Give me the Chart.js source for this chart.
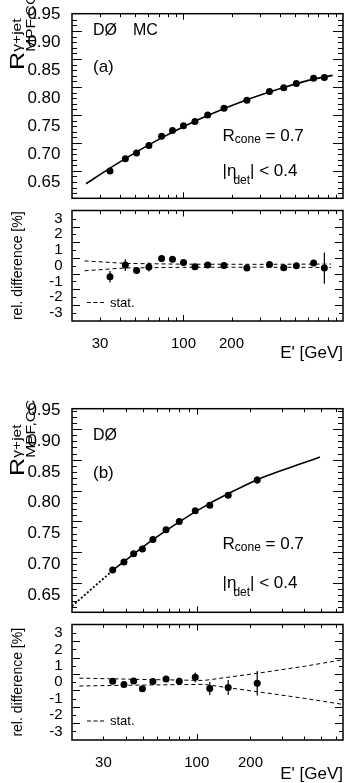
<!DOCTYPE html>
<html>
<head>
<meta charset="utf-8">
<script src="https://cdn.jsdelivr.net/npm/chart.js@4.4.0/dist/chart.umd.min.js"></script>
<style>
html, body { margin: 0; padding: 0; background: #fff; }
body { width: 347px; height: 783px; position: relative; overflow: hidden; font-family: 'Liberation Sans', Arial, sans-serif; color: #000; }
.box { position: absolute; left: 0; width: 347px; }
.t { position: absolute; line-height: 1; white-space: nowrap; }
.sb { font-size: 12px; position: relative; }
.yt { position: absolute; font-size: 21px; line-height: 1; white-space: nowrap; transform-origin: 0 0; transform: rotate(-90deg) scaleX(1.2); }
.yt .sup, .yt .sub { position: absolute; left: 15.2px; font-size: 13px; }
.yt .sup { top: 4.4px; }
.yt .sub { top: 17.9px; }
</style>
</head>
<body>
<div class="box" style="top:0;height:212px"><canvas id="aTop"></canvas></div>
<div class="box" style="top:200px;height:170px"><canvas id="aBot"></canvas></div>
<div class="box" style="top:395px;height:231px"><canvas id="bTop"></canvas></div>
<div class="box" style="top:614px;height:169px"><canvas id="bBot"></canvas></div>

<div class="yt" style="left:6.3px;top:70px">R<span class="sup">γ+jet</span><span class="sub">MPF,CC</span></div>
<div class="t" style="left:93px;top:21.5px;font-size:16px">DØ</div>
<div class="t" style="left:133px;top:21.5px;font-size:16px">MC</div>
<div class="t" style="left:93px;top:57.6px;font-size:17px">(a)</div>
<div class="t" style="left:222.5px;top:127.3px;font-size:17px">R<span class="sb" style="top:2px">cone</span> = 0.7</div>
<div class="t" style="left:222.5px;top:162.3px;font-size:17px">|η<span class="sb" style="top:8px;margin-left:-3px">det</span>| &lt; 0.4</div>

<div class="yt" style="left:6.3px;top:476px">R<span class="sup">γ+jet</span><span class="sub">MPF,CC</span></div>
<div class="t" style="left:93px;top:426.5px;font-size:16px">DØ</div>
<div class="t" style="left:93px;top:463.6px;font-size:17px">(b)</div>
<div class="t" style="left:222.5px;top:534.9px;font-size:17px">R<span class="sb" style="top:2px">cone</span> = 0.7</div>
<div class="t" style="left:222.5px;top:573.9px;font-size:17px">|η<span class="sb" style="top:8px;margin-left:-3px">det</span>| &lt; 0.4</div>

<script>
// ---- panel (a): MC ----
const aE = [34.6, 43.2, 50.8, 60.7, 72.9, 85.3, 100, 118, 141.8, 179.5, 249.7, 346, 425, 510, 654, 764];
const aR = [0.670, 0.6916, 0.7022, 0.7154, 0.7319, 0.7424, 0.7509, 0.7582, 0.7699, 0.782, 0.7963, 0.8117, 0.8185, 0.826, 0.8355, 0.837];
const aRerr = [0.003, 0.002, 0.002, 0.002, 0.002, 0.002, 0.001, 0.001, 0.001, 0.001, 0.001, 0.001, 0.001, 0.001, 0.002, 0.006];
const aDiff = [-0.70, 0.04, -0.30, -0.08, 0.46, 0.42, 0.21, -0.06, 0.04, 0.02, -0.15, 0.08, -0.13, 0.0, 0.17, -0.15];
const aDiffErr = [0.36, 0.38, 0.2, 0.28, 0.18, 0.16, 0.14, 0.12, 0.12, 0.1, 0.1, 0.1, 0.1, 0.1, 0.14, 1.0];
const aFitE = [24.5, 34.6, 50.8, 72.9, 100, 141.8, 249.7, 425, 654, 861];
const aFitR = [0.647, 0.675, 0.704, 0.729, 0.749, 0.769, 0.797, 0.819, 0.834, 0.8407];
const aStatE = [24, 43, 100, 300, 840];
const aStatHi = [0.31, 0.15, 0.10, 0.09, 0.11];
const aStatLo = [-0.32, -0.14, -0.10, -0.09, -0.11];

// ---- panel (b): data ----
const bE = [33.8, 39.1, 44.3, 49.6, 56.8, 67.3, 79.8, 98.1, 118.3, 150.1, 218.2];
const bR = [0.6906, 0.7037, 0.7172, 0.7248, 0.7403, 0.7561, 0.7696, 0.787, 0.796, 0.8121, 0.8371];
const bRerr = [0.001, 0.001, 0.001, 0.001, 0.001, 0.001, 0.002, 0.002, 0.003, 0.003, 0.006];
const bDiff = [0.06, -0.14, 0.08, -0.40, 0.04, 0.20, 0.06, 0.30, -0.38, -0.32, -0.06];
const bDiffErr = [0.12, 0.12, 0.12, 0.12, 0.14, 0.18, 0.22, 0.3, 0.4, 0.45, 0.74];
const bDotE = [20, 33.8];
const bDotR = [0.632, 0.690];
const bFitE = [33.8, 44.3, 56.8, 79.8, 118.3, 150.1, 218.2, 379, 490];
const bFitR = [0.690, 0.7166, 0.740, 0.7691, 0.799, 0.8147, 0.8376, 0.863, 0.8743];
const bStatE = [22, 50, 110, 220, 400, 650];
const bStatHi = [0.25, 0.17, 0.11, 0.55, 0.97, 1.36];
const bStatLo = [-0.23, -0.17, -0.13, -0.58, -0.98, -1.34];

// axis ticks
const xLabels = [30, 100, 200];
const xMinorTicks = [20, 30, 40, 50, 60, 70, 80, 90, 100, 200, 300, 400, 500, 600, 700, 800, 900, 1000];
const xDecades = [100, 1000];
const yTicksTop = [0.65, 0.70, 0.75, 0.80, 0.85, 0.90, 0.95];
const yTicksBot = [-3, -2, -1, 0, 1, 2, 3];

Chart.defaults.font.family = "'Liberation Sans', Arial, sans-serif";
Chart.defaults.color = '#000';
Chart.defaults.animation = false;

const pts = (xs, ys) => xs.map((x, i) => ({x: x, y: ys[i]}));

// frame + inward ticks, ROOT style
const frameTicks = {
  id: 'frameTicks',
  afterDraw(chart, args, o) {
    const {ctx, chartArea: a} = chart;
    const xs = chart.scales.x, ys = chart.scales.y;
    ctx.save();
    ctx.strokeStyle = '#000';
    ctx.lineWidth = 1;
    ctx.beginPath();
    for (const v of xMinorTicks) {
      const px = Math.round(xs.getPixelForValue(v)) + 0.5;
      if (px <= a.left + 1 || px >= a.right - 1) continue;
      const len = xDecades.includes(v) ? o.xMajor : o.xMinor;
      ctx.moveTo(px, a.top); ctx.lineTo(px, a.top + len);
      ctx.moveTo(px, a.bottom); ctx.lineTo(px, a.bottom - len);
    }
    for (let i = 0; i < 200; i++) {
      const v = o.yFrom + i * o.yStep;
      if (v > ys.max) break;
      const py = Math.round(ys.getPixelForValue(v)) + 0.5;
      if (py <= a.top + 1 || py >= a.bottom - 1) continue;
      const len = (i % o.yEvery === 0) ? o.yMajor : o.yMinor;
      ctx.moveTo(a.left, py); ctx.lineTo(a.left + len, py);
      ctx.moveTo(a.right, py); ctx.lineTo(a.right - len, py);
    }
    ctx.stroke();
    ctx.lineWidth = 1.5;
    ctx.strokeRect(a.left, a.top, a.right - a.left, a.bottom - a.top);
    ctx.restore();
  }
};

const errBars = {
  id: 'errBars',
  afterDatasetsDraw(chart) {
    const {ctx, chartArea: a} = chart;
    ctx.save();
    ctx.beginPath();
    ctx.rect(a.left, a.top, a.right - a.left, a.bottom - a.top);
    ctx.clip();
    ctx.strokeStyle = '#000';
    ctx.lineWidth = 1.2;
    ctx.beginPath();
    chart.data.datasets.forEach(ds => {
      if (!ds.errs) return;
      ds.data.forEach((p, i) => {
        const px = chart.scales.x.getPixelForValue(p.x);
        ctx.moveTo(px, chart.scales.y.getPixelForValue(p.y - ds.errs[i]));
        ctx.lineTo(px, chart.scales.y.getPixelForValue(p.y + ds.errs[i]));
      });
    });
    ctx.stroke();
    ctx.restore();
  }
};

const statKey = {
  id: 'statKey',
  afterDraw(chart, args, o) {
    const ctx = chart.ctx;
    ctx.save();
    ctx.strokeStyle = '#000';
    ctx.lineWidth = 1;
    ctx.setLineDash([4, 2.5]);
    ctx.beginPath();
    ctx.moveTo(87, o.y); ctx.lineTo(104, o.y);
    ctx.stroke();
    ctx.font = "13px 'Liberation Sans', Arial, sans-serif";
    ctx.fillStyle = '#000';
    ctx.textBaseline = 'middle';
    ctx.fillText('stat.', 110, o.y + 0.5);
    ctx.restore();
  }
};

function xAxis(max, show, extra) {
  const ax = {
    type: 'logarithmic', min: 20, max: max, display: show,
    grid: {display: false}, border: {display: false},
    afterBuildTicks: s => { s.ticks = xLabels.map(v => ({value: v})); },
    ticks: {autoSkip: false, maxRotation: 0, padding: 6, font: {size: 15}, callback: v => String(v)}
  };
  return Object.assign(ax, extra || {});
}

function topChart(id, xMax, yMin, yMax, datasets) {
  return new Chart(document.getElementById(id), {
    type: 'scatter',
    data: {datasets: datasets},
    options: {
      responsive: true, maintainAspectRatio: false,
      layout: {padding: {top: id === 'aTop' ? 2 : 9, bottom: 3, left: 0, right: 4}},
      plugins: {legend: {display: false}, tooltip: {enabled: false},
        frameTicks: {xMajor: 6, xMinor: 3.5, yFrom: 0.62, yStep: 0.01, yEvery: 5, yMajor: 10, yMinor: 5}},
      scales: {
        x: xAxis(xMax, false),
        y: {
          min: yMin, max: yMax,
          grid: {display: false}, border: {display: false},
          afterBuildTicks: s => { s.ticks = yTicksTop.map(v => ({value: v})); },
          afterFit: s => { s.width = 72; },
          ticks: {autoSkip: false, padding: 3.5, font: {size: 17}, callback: v => v.toFixed(2)}
        }
      }
    },
    plugins: [frameTicks, errBars]
  });
}

function botChart(id, xMax, xHeight, titlePad, keyY, datasets) {
  return new Chart(document.getElementById(id), {
    type: 'scatter',
    data: {datasets: datasets},
    options: {
      responsive: true, maintainAspectRatio: false,
      layout: {padding: {top: 9, bottom: 0, left: 0, right: 4}},
      plugins: {legend: {display: false}, tooltip: {enabled: false},
        frameTicks: {xMajor: 6, xMinor: 3.5, yFrom: -3.5, yStep: 0.5, yEvery: 2, yMajor: 8, yMinor: 4},
        statKey: {y: keyY}},
      scales: {
        x: xAxis(xMax, true, {
          afterFit: s => { s.height = xHeight; },
          title: {display: true, text: "E' [GeV]", align: 'end', font: {size: 17, lineHeight: 1}, padding: {top: 0, bottom: titlePad}}
        }),
        y: {
          min: -3.52, max: 3.52,
          grid: {display: false}, border: {display: false},
          afterBuildTicks: s => { s.ticks = yTicksBot.map(v => ({value: v})); },
          afterFit: s => { s.width = 72; },
          ticks: {autoSkip: false, padding: 1.5, font: {size: 15}, callback: v => String(v)},
          title: {display: true, text: 'rel. difference [%]', font: {size: 14, lineHeight: 1}, padding: {top: 11, bottom: 0}}
        }
      }
    },
    plugins: [frameTicks, errBars, statKey]
  });
}

const dot = {pointRadius: 3.5, pointStyle: 'circle', backgroundColor: '#000', borderWidth: 0, showLine: false};
const fit = {showLine: true, pointRadius: 0, borderColor: '#000', borderWidth: 1.6, cubicInterpolationMode: 'monotone', fill: false};
const stat = {showLine: true, pointRadius: 0, borderColor: '#000', borderWidth: 1, borderDash: [4, 3], tension: 0, fill: false};

topChart('aTop', 1000, 0.621, 0.951, [
  Object.assign({label: 'MC', data: pts(aE, aR), errs: aRerr}, dot),
  Object.assign({label: 'fit', data: pts(aFitE, aFitR)}, fit)
]);

botChart('aBot', 1000, 49, 8.5, 102.5, [
  Object.assign({label: 'diff', data: pts(aE, aDiff), errs: aDiffErr}, dot),
  Object.assign({label: 'stat+', data: pts(aStatE, aStatHi)}, stat),
  Object.assign({label: 'stat-', data: pts(aStatE, aStatLo)}, stat)
]);

topChart('bTop', 660, 0.622, 0.953, [
  Object.assign({label: 'data', data: pts(bE, bR), errs: bRerr}, dot),
  Object.assign({label: 'fit', data: pts(bFitE, bFitR)}, fit),
  Object.assign({label: 'extrap', data: pts(bDotE, bDotR)}, fit, {borderDash: [2, 2], borderWidth: 1.8})
]);

botChart('bBot', 660, 43, 0, 107, [
  Object.assign({label: 'diff', data: pts(bE, bDiff), errs: bDiffErr}, dot),
  Object.assign({label: 'stat+', data: pts(bStatE, bStatHi)}, stat),
  Object.assign({label: 'stat-', data: pts(bStatE, bStatLo)}, stat)
]);
</script>
</body>
</html>
